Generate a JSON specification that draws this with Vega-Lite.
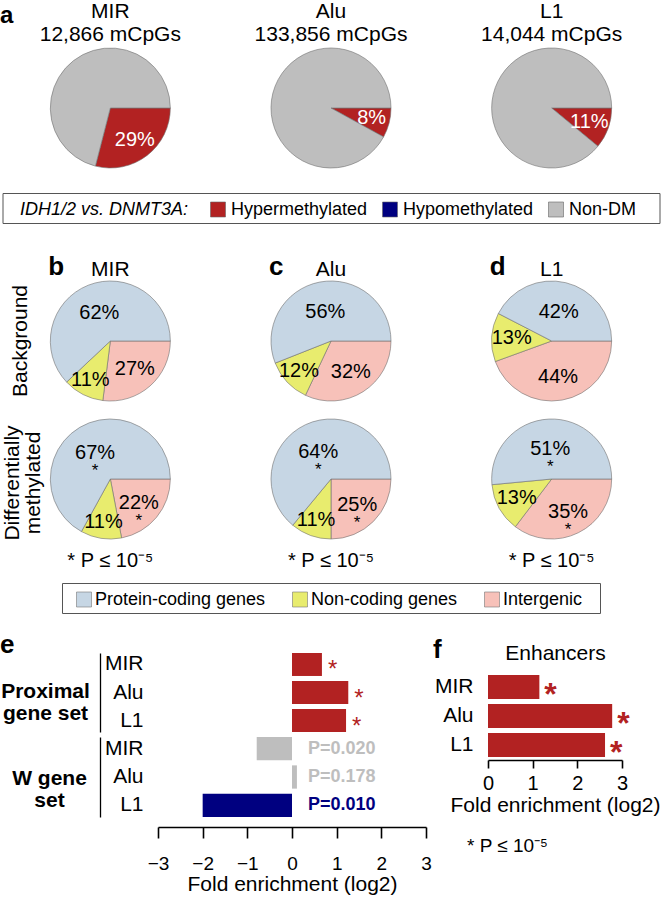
{
  "$schema": "https://vega.github.io/schema/vega-lite/v6.json",
  "background": "white",
  "padding": 0,
  "spacing": 0,
  "bounds": "flush",
  "center": true,
  "config": {
    "font": "Liberation Sans",
    "view": {"stroke": null},
    "axis": {"grid": false, "labelColor": "black", "titleColor": "black", "domainColor": "black", "tickColor": "black", "labelFont": "Liberation Sans", "titleFont": "Liberation Sans"},
    "legend": {"labelFont": "Liberation Sans", "titleFont": "Liberation Sans", "labelColor": "black", "titleColor": "black"},
    "title": {"font": "Liberation Sans", "color": "black"},
    "text": {"font": "Liberation Sans", "color": "black"}
  },
  "resolve": {"scale": {"color": "independent"}, "legend": {"color": "independent"}},
  "datasets": {
    "pieA": [
      {"element": "MIR", "row": "pie", "status": "Hypermethylated", "pct": 29, "k": 1, "label": "29%"},
      {"element": "MIR", "row": "pie", "status": "Non-DM", "pct": 71, "k": 2, "label": ""},
      {"element": "Alu", "row": "pie", "status": "Hypermethylated", "pct": 8, "k": 1, "label": "8%"},
      {"element": "Alu", "row": "pie", "status": "Non-DM", "pct": 92, "k": 2, "label": ""},
      {"element": "L1", "row": "pie", "status": "Hypermethylated", "pct": 11, "k": 1, "label": "11%"},
      {"element": "L1", "row": "pie", "status": "Non-DM", "pct": 89, "k": 2, "label": ""}
    ],
    "titlesA": [
      {"element": "MIR", "row": "title", "title": "MIR\n12,866 mCpGs"},
      {"element": "Alu", "row": "title", "title": "Alu\n133,856 mCpGs"},
      {"element": "L1", "row": "title", "title": "L1\n14,044 mCpGs"}
    ],
    "legendA": [{"status": "Hypermethylated"}, {"status": "Hypomethylated"}, {"status": "Non-DM"}],
    "pieB": [
      {"element": "MIR", "set": "Background", "cat": "Intergenic", "pct": 27, "k": 1, "label": "27%", "star": ""},
      {"element": "MIR", "set": "Background", "cat": "Non-coding genes", "pct": 11, "k": 2, "label": "11%", "star": ""},
      {"element": "MIR", "set": "Background", "cat": "Protein-coding genes", "pct": 62, "k": 3, "label": "62%", "star": ""},
      {"element": "MIR", "set": "Differentially methylated", "cat": "Intergenic", "pct": 22, "k": 1, "label": "22%", "star": "*"},
      {"element": "MIR", "set": "Differentially methylated", "cat": "Non-coding genes", "pct": 11, "k": 2, "label": "11%", "star": ""},
      {"element": "MIR", "set": "Differentially methylated", "cat": "Protein-coding genes", "pct": 67, "k": 3, "label": "67%", "star": "*"},
      {"element": "Alu", "set": "Background", "cat": "Intergenic", "pct": 32, "k": 1, "label": "32%", "star": ""},
      {"element": "Alu", "set": "Background", "cat": "Non-coding genes", "pct": 12, "k": 2, "label": "12%", "star": ""},
      {"element": "Alu", "set": "Background", "cat": "Protein-coding genes", "pct": 56, "k": 3, "label": "56%", "star": ""},
      {"element": "Alu", "set": "Differentially methylated", "cat": "Intergenic", "pct": 25, "k": 1, "label": "25%", "star": "*"},
      {"element": "Alu", "set": "Differentially methylated", "cat": "Non-coding genes", "pct": 11, "k": 2, "label": "11%", "star": ""},
      {"element": "Alu", "set": "Differentially methylated", "cat": "Protein-coding genes", "pct": 64, "k": 3, "label": "64%", "star": "*"},
      {"element": "L1", "set": "Background", "cat": "Intergenic", "pct": 44, "k": 1, "label": "44%", "star": ""},
      {"element": "L1", "set": "Background", "cat": "Non-coding genes", "pct": 13, "k": 2, "label": "13%", "star": ""},
      {"element": "L1", "set": "Background", "cat": "Protein-coding genes", "pct": 42, "k": 3, "label": "42%", "star": ""},
      {"element": "L1", "set": "Differentially methylated", "cat": "Intergenic", "pct": 35, "k": 1, "label": "35%", "star": "*"},
      {"element": "L1", "set": "Differentially methylated", "cat": "Non-coding genes", "pct": 13, "k": 2, "label": "13%", "star": ""},
      {"element": "L1", "set": "Differentially methylated", "cat": "Protein-coding genes", "pct": 51, "k": 3, "label": "51%", "star": "*"}
    ],
    "titlesB": [
      {"element": "MIR", "set": "Background", "name": "MIR", "letter": "b"},
      {"element": "Alu", "set": "Background", "name": "Alu", "letter": "c"},
      {"element": "L1", "set": "Background", "name": "L1", "letter": "d"}
    ],
    "notesB": [
      {"element": "MIR", "set": "Differentially methylated", "note": "* P ≤ 10⁻⁵"},
      {"element": "Alu", "set": "Differentially methylated", "note": "* P ≤ 10⁻⁵"},
      {"element": "L1", "set": "Differentially methylated", "note": "* P ≤ 10⁻⁵"}
    ],
    "rowLabels": [
      {"set": "Background", "t": "Background", "pos": "a"},
      {"set": "Differentially methylated", "t": "Differentially", "pos": "b"},
      {"set": "Differentially methylated", "t": "methylated", "pos": "c"}
    ],
    "legendB": [{"cat": "Protein-coding genes"}, {"cat": "Non-coding genes"}, {"cat": "Intergenic"}],
    "barsE": [
      {"grp": "P", "rep": "MIR", "value": 0.67, "status": "Hypermethylated", "note": "*"},
      {"grp": "P", "rep": "Alu", "value": 1.26, "status": "Hypermethylated", "note": "*"},
      {"grp": "P", "rep": "L1", "value": 1.21, "status": "Hypermethylated", "note": "*"},
      {"grp": "W", "rep": "MIR", "value": -0.79, "status": "Non-DM", "note": "P=0.020"},
      {"grp": "W", "rep": "Alu", "value": 0.11, "status": "Non-DM", "note": "P=0.178"},
      {"grp": "W", "rep": "L1", "value": -2.0, "status": "Hypomethylated", "note": "P=0.010"}
    ],
    "barsF": [
      {"rep": "MIR", "value": 1.15, "status": "Hypermethylated", "note": "*", "letter": "f", "fnote": ""},
      {"rep": "Alu", "value": 2.78, "status": "Hypermethylated", "note": "*", "letter": "", "fnote": ""},
      {"rep": "L1", "value": 2.62, "status": "Hypermethylated", "note": "*", "letter": "", "fnote": "* P ≤ 10⁻⁵"}
    ]
  },
  "vconcat": [
    {
      "width": 662,
      "height": 193,
      "title": {"text": "a", "anchor": "start", "frame": "group", "fontSize": 24, "fontWeight": "bold", "baseline": "alphabetic", "offset": -47},
      "encoding": {
        "x": {"field": "element", "type": "nominal", "scale": {"type": "point", "domain": ["MIR", "Alu", "L1"], "padding": 0.5}, "axis": null},
        "y": {"field": "row", "type": "nominal", "scale": {"type": "point", "domain": ["title", "pie"], "range": [17.5, 108], "padding": 0}, "axis": null}
      },
      "layer": [
        {
          "data": {"name": "pieA"},
          "transform": [{"filter": "datum.element === 'MIR'"}],
          "encoding": {
            "theta": {"field": "pct", "type": "quantitative", "stack": "normalize", "scale": {"range": [1.5707963, 7.8539816]}},
            "order": {"field": "k", "type": "quantitative"},
            "detail": {"field": "status"}
          },
          "layer": [
            {"mark": {"type": "arc", "outerRadius": 60, "stroke": "#707070", "strokeWidth": 0.6}, "encoding": {"color": {"field": "status", "type": "nominal", "scale": {"domain": ["Hypermethylated", "Hypomethylated", "Non-DM"], "range": ["#b22222", "#000080", "#bebebe"]}, "legend": null}}},
            {"mark": {"type": "text", "radius": 40, "fontSize": 20, "color": "white"}, "encoding": {"text": {"field": "label"}}}
          ]
        },
        {
          "data": {"name": "pieA"},
          "transform": [{"filter": "datum.element === 'Alu'"}],
          "encoding": {
            "theta": {"field": "pct", "type": "quantitative", "stack": "normalize", "scale": {"range": [1.5707963, 7.8539816]}},
            "order": {"field": "k", "type": "quantitative"},
            "detail": {"field": "status"}
          },
          "layer": [
            {"mark": {"type": "arc", "outerRadius": 60, "stroke": "#707070", "strokeWidth": 0.6}, "encoding": {"color": {"field": "status", "type": "nominal", "scale": {"domain": ["Hypermethylated", "Hypomethylated", "Non-DM"], "range": ["#b22222", "#000080", "#bebebe"]}, "legend": null}}},
            {"mark": {"type": "text", "radius": 42, "fontSize": 20, "color": "white"}, "encoding": {"text": {"field": "label"}}}
          ]
        },
        {
          "data": {"name": "pieA"},
          "transform": [{"filter": "datum.element === 'L1'"}],
          "encoding": {
            "theta": {"field": "pct", "type": "quantitative", "stack": "normalize", "scale": {"range": [1.5707963, 7.8539816]}},
            "order": {"field": "k", "type": "quantitative"},
            "detail": {"field": "status"}
          },
          "layer": [
            {"mark": {"type": "arc", "outerRadius": 60, "stroke": "#707070", "strokeWidth": 0.6}, "encoding": {"color": {"field": "status", "type": "nominal", "scale": {"domain": ["Hypermethylated", "Hypomethylated", "Non-DM"], "range": ["#b22222", "#000080", "#bebebe"]}, "legend": null}}},
            {"mark": {"type": "text", "radius": 40, "fontSize": 20, "color": "white"}, "encoding": {"text": {"field": "label"}}}
          ]
        },
        {
          "data": {"name": "titlesA"},
          "mark": {"type": "text", "fontSize": 21, "lineBreak": "\n", "lineHeight": 23, "baseline": "alphabetic", "align": "center"},
          "encoding": {"text": {"field": "title"}}
        }
      ]
    },
    {
      "width": 657,
      "height": 30,
      "view": {"stroke": "#555555", "strokeWidth": 1},
      "data": {"name": "legendA"},
      "mark": {"type": "square", "opacity": 0},
      "encoding": {
        "color": {
          "field": "status", "type": "nominal",
          "scale": {"domain": ["Hypermethylated", "Hypomethylated", "Non-DM"], "range": ["#b22222", "#000080", "#bebebe"]},
          "legend": {"orient": "none", "legendX": 17.5, "legendY": 7.5, "direction": "horizontal", "title": "IDH1/2 vs. DNMT3A:", "titleOrient": "left", "titleFontStyle": "italic", "titleFontWeight": "normal", "titleFontSize": 18, "titlePadding": 20, "labelFontSize": 18, "labelOffset": 4, "columnPadding": 13, "symbolType": "square", "symbolSize": 225, "symbolOpacity": 1, "symbolStrokeColor": "#666666", "symbolStrokeWidth": 0.6, "padding": 0, "labelLimit": 400, "titleLimit": 400}
        }
      }
    },
    {
      "width": 662,
      "height": 360,
      "encoding": {
        "x": {"field": "element", "type": "nominal", "scale": {"type": "point", "domain": ["MIR", "Alu", "L1"], "padding": 0.5}, "axis": null},
        "y": {"field": "set", "type": "nominal", "scale": {"type": "point", "domain": ["Background", "Differentially methylated"], "range": [118, 256], "padding": 0}, "axis": null}
      },
      "layer": [
        {
          "data": {"name": "pieB"},
          "transform": [{"filter": "datum.element === 'MIR' && datum.set === 'Background'"}],
          "encoding": {"theta": {"field": "pct", "type": "quantitative", "stack": "normalize", "scale": {"range": [1.5707963, 7.8539816]}}, "order": {"field": "k", "type": "quantitative"}, "detail": {"field": "cat"}},
          "layer": [
            {"mark": {"type": "arc", "outerRadius": 60, "stroke": "#707070", "strokeWidth": 0.6}, "encoding": {"color": {"field": "cat", "type": "nominal", "scale": {"domain": ["Protein-coding genes", "Non-coding genes", "Intergenic"], "range": ["#c6d6e4", "#e8ec6e", "#f7c1b9"]}, "legend": null}}},
            {"mark": {"type": "text", "fontSize": 20, "color": "black", "radius": {"expr": "datum.cat === 'Protein-coding genes' ? 30 : datum.cat === 'Intergenic' ? 37 : 44"}}, "encoding": {"text": {"field": "label"}}},
            {"mark": {"type": "text", "fontSize": 17, "color": "black", "baseline": "alphabetic", "dy": 23, "radius": {"expr": "datum.cat === 'Protein-coding genes' ? 30 : datum.cat === 'Intergenic' ? 37 : 44"}}, "encoding": {"text": {"field": "star"}}}
          ]
        },
        {
          "data": {"name": "pieB"},
          "transform": [{"filter": "datum.element === 'MIR' && datum.set === 'Differentially methylated'"}],
          "encoding": {"theta": {"field": "pct", "type": "quantitative", "stack": "normalize", "scale": {"range": [1.5707963, 7.8539816]}}, "order": {"field": "k", "type": "quantitative"}, "detail": {"field": "cat"}},
          "layer": [
            {"mark": {"type": "arc", "outerRadius": 60, "stroke": "#707070", "strokeWidth": 0.6}, "encoding": {"color": {"field": "cat", "type": "nominal", "scale": {"domain": ["Protein-coding genes", "Non-coding genes", "Intergenic"], "range": ["#c6d6e4", "#e8ec6e", "#f7c1b9"]}, "legend": null}}},
            {"mark": {"type": "text", "fontSize": 20, "color": "black", "radius": {"expr": "datum.cat === 'Protein-coding genes' ? 30 : datum.cat === 'Intergenic' ? 37 : 44"}}, "encoding": {"text": {"field": "label"}}},
            {"mark": {"type": "text", "fontSize": 17, "color": "black", "baseline": "alphabetic", "dy": 23, "radius": {"expr": "datum.cat === 'Protein-coding genes' ? 30 : datum.cat === 'Intergenic' ? 37 : 44"}}, "encoding": {"text": {"field": "star"}}}
          ]
        },
        {
          "data": {"name": "pieB"},
          "transform": [{"filter": "datum.element === 'Alu' && datum.set === 'Background'"}],
          "encoding": {"theta": {"field": "pct", "type": "quantitative", "stack": "normalize", "scale": {"range": [1.5707963, 7.8539816]}}, "order": {"field": "k", "type": "quantitative"}, "detail": {"field": "cat"}},
          "layer": [
            {"mark": {"type": "arc", "outerRadius": 60, "stroke": "#707070", "strokeWidth": 0.6}, "encoding": {"color": {"field": "cat", "type": "nominal", "scale": {"domain": ["Protein-coding genes", "Non-coding genes", "Intergenic"], "range": ["#c6d6e4", "#e8ec6e", "#f7c1b9"]}, "legend": null}}},
            {"mark": {"type": "text", "fontSize": 20, "color": "black", "radius": {"expr": "datum.cat === 'Protein-coding genes' ? 30 : datum.cat === 'Intergenic' ? 37 : 44"}}, "encoding": {"text": {"field": "label"}}},
            {"mark": {"type": "text", "fontSize": 17, "color": "black", "baseline": "alphabetic", "dy": 23, "radius": {"expr": "datum.cat === 'Protein-coding genes' ? 30 : datum.cat === 'Intergenic' ? 37 : 44"}}, "encoding": {"text": {"field": "star"}}}
          ]
        },
        {
          "data": {"name": "pieB"},
          "transform": [{"filter": "datum.element === 'Alu' && datum.set === 'Differentially methylated'"}],
          "encoding": {"theta": {"field": "pct", "type": "quantitative", "stack": "normalize", "scale": {"range": [1.5707963, 7.8539816]}}, "order": {"field": "k", "type": "quantitative"}, "detail": {"field": "cat"}},
          "layer": [
            {"mark": {"type": "arc", "outerRadius": 60, "stroke": "#707070", "strokeWidth": 0.6}, "encoding": {"color": {"field": "cat", "type": "nominal", "scale": {"domain": ["Protein-coding genes", "Non-coding genes", "Intergenic"], "range": ["#c6d6e4", "#e8ec6e", "#f7c1b9"]}, "legend": null}}},
            {"mark": {"type": "text", "fontSize": 20, "color": "black", "radius": {"expr": "datum.cat === 'Protein-coding genes' ? 30 : datum.cat === 'Intergenic' ? 37 : 44"}}, "encoding": {"text": {"field": "label"}}},
            {"mark": {"type": "text", "fontSize": 17, "color": "black", "baseline": "alphabetic", "dy": 23, "radius": {"expr": "datum.cat === 'Protein-coding genes' ? 30 : datum.cat === 'Intergenic' ? 37 : 44"}}, "encoding": {"text": {"field": "star"}}}
          ]
        },
        {
          "data": {"name": "pieB"},
          "transform": [{"filter": "datum.element === 'L1' && datum.set === 'Background'"}],
          "encoding": {"theta": {"field": "pct", "type": "quantitative", "stack": "normalize", "scale": {"range": [1.5707963, 7.8539816]}}, "order": {"field": "k", "type": "quantitative"}, "detail": {"field": "cat"}},
          "layer": [
            {"mark": {"type": "arc", "outerRadius": 60, "stroke": "#707070", "strokeWidth": 0.6}, "encoding": {"color": {"field": "cat", "type": "nominal", "scale": {"domain": ["Protein-coding genes", "Non-coding genes", "Intergenic"], "range": ["#c6d6e4", "#e8ec6e", "#f7c1b9"]}, "legend": null}}},
            {"mark": {"type": "text", "fontSize": 20, "color": "black", "radius": {"expr": "datum.cat === 'Protein-coding genes' ? 30 : datum.cat === 'Intergenic' ? 37 : 40"}}, "encoding": {"text": {"field": "label"}}},
            {"mark": {"type": "text", "fontSize": 17, "color": "black", "baseline": "alphabetic", "dy": 23, "radius": {"expr": "datum.cat === 'Protein-coding genes' ? 30 : datum.cat === 'Intergenic' ? 37 : 40"}}, "encoding": {"text": {"field": "star"}}}
          ]
        },
        {
          "data": {"name": "pieB"},
          "transform": [{"filter": "datum.element === 'L1' && datum.set === 'Differentially methylated'"}],
          "encoding": {"theta": {"field": "pct", "type": "quantitative", "stack": "normalize", "scale": {"range": [1.5707963, 7.8539816]}}, "order": {"field": "k", "type": "quantitative"}, "detail": {"field": "cat"}},
          "layer": [
            {"mark": {"type": "arc", "outerRadius": 60, "stroke": "#707070", "strokeWidth": 0.6}, "encoding": {"color": {"field": "cat", "type": "nominal", "scale": {"domain": ["Protein-coding genes", "Non-coding genes", "Intergenic"], "range": ["#c6d6e4", "#e8ec6e", "#f7c1b9"]}, "legend": null}}},
            {"mark": {"type": "text", "fontSize": 20, "color": "black", "radius": {"expr": "datum.cat === 'Protein-coding genes' ? 30 : datum.cat === 'Intergenic' ? 37 : 40"}}, "encoding": {"text": {"field": "label"}}},
            {"mark": {"type": "text", "fontSize": 17, "color": "black", "baseline": "alphabetic", "dy": 23, "radius": {"expr": "datum.cat === 'Protein-coding genes' ? 30 : datum.cat === 'Intergenic' ? 37 : 40"}}, "encoding": {"text": {"field": "star"}}}
          ]
        },
        {
          "data": {"name": "titlesB"},
          "mark": {"type": "text", "fontSize": 21, "baseline": "alphabetic", "align": "center", "dy": -65.5},
          "encoding": {"text": {"field": "name"}}
        },
        {
          "data": {"name": "titlesB"},
          "mark": {"type": "text", "fontSize": 26, "fontWeight": "bold", "baseline": "alphabetic", "align": "left", "dx": -62, "dy": -66},
          "encoding": {"text": {"field": "letter"}}
        },
        {
          "data": {"name": "notesB"},
          "mark": {"type": "text", "fontSize": 20, "baseline": "alphabetic", "align": "center", "dy": 88},
          "encoding": {"text": {"field": "note"}}
        },
        {
          "data": {"name": "rowLabels"},
          "transform": [{"filter": "datum.pos === 'a'"}],
          "mark": {"type": "text", "angle": 270, "fontSize": 21, "align": "center", "baseline": "middle", "dx": 0, "dy": -89},
          "encoding": {"x": {"datum": "MIR", "type": "nominal", "axis": null}, "text": {"field": "t"}}
        },
        {
          "data": {"name": "rowLabels"},
          "transform": [{"filter": "datum.pos === 'b'"}],
          "mark": {"type": "text", "angle": 270, "fontSize": 21, "align": "center", "baseline": "middle", "dx": -4, "dy": -97},
          "encoding": {"x": {"datum": "MIR", "type": "nominal", "axis": null}, "text": {"field": "t"}}
        },
        {
          "data": {"name": "rowLabels"},
          "transform": [{"filter": "datum.pos === 'c'"}],
          "mark": {"type": "text", "angle": 270, "fontSize": 21, "align": "center", "baseline": "middle", "dx": -4, "dy": -76},
          "encoding": {"x": {"datum": "MIR", "type": "nominal", "axis": null}, "text": {"field": "t"}}
        }
      ]
    },
    {
      "width": 538,
      "height": 30,
      "view": {"stroke": "#555555", "strokeWidth": 1},
      "data": {"name": "legendB"},
      "mark": {"type": "square", "opacity": 0},
      "encoding": {
        "color": {
          "field": "cat", "type": "nominal",
          "scale": {"domain": ["Protein-coding genes", "Non-coding genes", "Intergenic"], "range": ["#c6d6e4", "#e8ec6e", "#f7c1b9"]},
          "legend": {"orient": "none", "legendX": 13, "legendY": 7.5, "direction": "horizontal", "title": null, "labelFontSize": 18, "labelOffset": 2, "columnPadding": 25, "symbolType": "square", "symbolSize": 225, "symbolOpacity": 1, "symbolStrokeColor": "#777777", "symbolStrokeWidth": 0.6, "padding": 0, "labelLimit": 400}
        }
      }
    },
    {
      "width": 662,
      "height": 288,
      "title": {"text": "e", "anchor": "start", "frame": "group", "fontSize": 26, "fontWeight": "bold", "baseline": "alphabetic", "offset": -66},
      "resolve": {"scale": {"x": "independent", "y": "independent"}},
      "layer": [
        {
          "data": {"name": "barsE"},
          "encoding": {
            "x": {"field": "value", "type": "quantitative", "scale": {"domain": [-3, 3], "range": [158, 426], "nice": false},
              "axis": {"orient": "bottom", "offset": -74, "values": [-3, -2, -1, 0, 1, 2, 3], "domainWidth": 1.6, "tickWidth": 1.6, "tickSize": 11, "labelFontSize": 19, "labelPadding": 16, "labelFlush": false, "title": "Fold enrichment (log2)", "titleFontSize": 21, "titleFontWeight": "normal", "titlePadding": 0}}
          },
          "resolve": {"scale": {"y": "independent"}},
          "layer": [
            {
              "transform": [{"filter": "datum.grp === 'P'"}],
              "encoding": {
                "y": {"field": "rep", "type": "nominal", "scale": {"domain": ["MIR", "Alu", "L1"], "range": [40, 119], "paddingInner": 0.18, "paddingOuter": 0},
                  "axis": {"orient": "right", "offset": -562, "domain": true, "domainWidth": 1.3, "ticks": false, "tickSize": 0, "labelAlign": "right", "labelBaseline": "middle", "labelPadding": 43, "labelFontSize": 21, "title": ["Proximal", "gene set"], "titleFontSize": 21, "titleFontWeight": "bold", "titleAngle": 0, "titleAlign": "center", "titleBaseline": "middle", "titleX": -55, "titleY": 78, "titleLineHeight": 22}}
              },
              "layer": [
                {"mark": {"type": "bar"}, "encoding": {"color": {"field": "status", "type": "nominal", "scale": {"domain": ["Hypermethylated", "Hypomethylated", "Non-DM"], "range": ["#b22222", "#000080", "#bebebe"]}, "legend": null}}},
                {"mark": {"type": "text", "align": "left", "baseline": "alphabetic", "dx": 6, "dy": 13, "fontSize": 24}, "encoding": {"text": {"field": "note"}, "color": {"field": "status", "type": "nominal", "scale": {"domain": ["Hypermethylated", "Hypomethylated", "Non-DM"], "range": ["#b22222", "#000080", "#bebebe"]}, "legend": null}}}
              ]
            },
            {
              "transform": [{"filter": "datum.grp === 'W'"}],
              "encoding": {
                "y": {"field": "rep", "type": "nominal", "scale": {"domain": ["MIR", "Alu", "L1"], "range": [124, 204], "paddingInner": 0.18, "paddingOuter": 0},
                  "axis": {"orient": "right", "offset": -562, "domain": true, "domainWidth": 1.3, "ticks": false, "tickSize": 0, "labelAlign": "right", "labelBaseline": "middle", "labelPadding": 43, "labelFontSize": 21, "title": ["W gene", "set"], "titleFontSize": 21, "titleFontWeight": "bold", "titleAngle": 0, "titleAlign": "center", "titleBaseline": "middle", "titleX": -51, "titleY": 165, "titleLineHeight": 22}}
              },
              "layer": [
                {"mark": {"type": "bar"}, "encoding": {"color": {"field": "status", "type": "nominal", "scale": {"domain": ["Hypermethylated", "Hypomethylated", "Non-DM"], "range": ["#b22222", "#000080", "#bebebe"]}, "legend": null}}},
                {"mark": {"type": "text", "align": "left", "baseline": "middle", "dx": 16, "fontSize": 18, "fontWeight": "bold"},
                  "encoding": {
                    "x": {"datum": 0, "type": "quantitative", "scale": {"domain": [-3, 3], "range": [158, 426], "nice": false},
                      "axis": {"orient": "bottom", "offset": -74, "values": [-3, -2, -1, 0, 1, 2, 3], "domainWidth": 1.6, "tickWidth": 1.6, "tickSize": 11, "labelFontSize": 19, "labelPadding": 16, "labelFlush": false, "title": "Fold enrichment (log2)", "titleFontSize": 21, "titleFontWeight": "normal", "titlePadding": 0}},
                    "text": {"field": "note"},
                    "color": {"field": "status", "type": "nominal", "scale": {"domain": ["Hypermethylated", "Hypomethylated", "Non-DM"], "range": ["#b22222", "#000080", "#bebebe"]}, "legend": null}
                  }
                }
              ]
            }
          ]
        },
        {
          "data": {"name": "barsF"},
          "encoding": {
            "x": {"field": "value", "type": "quantitative", "scale": {"domain": [0, 3], "range": [488, 622], "nice": false},
              "axis": {"orient": "bottom", "offset": -141, "values": [0, 1, 2, 3], "domainWidth": 1.6, "tickWidth": 1.6, "tickSize": 8, "labelFontSize": 20, "labelPadding": 5, "labelFlush": false, "title": "Fold enrichment (log2)", "titleFontSize": 21, "titleFontWeight": "normal", "titlePadding": 1}},
            "y": {"field": "rep", "type": "nominal", "scale": {"domain": ["MIR", "Alu", "L1"], "range": [62, 144], "paddingInner": 0.172, "paddingOuter": 0},
              "axis": {"orient": "left", "offset": -488, "domain": false, "ticks": false, "tickSize": 0, "labelPadding": 15, "labelFontSize": 21, "labelBaseline": "middle", "title": "Enhancers", "titleFontSize": 21, "titleFontWeight": "normal", "titleAngle": 0, "titleAlign": "center", "titleBaseline": "middle", "titleX": 67, "titleY": 40}}
          },
          "layer": [
            {"mark": {"type": "bar"}, "encoding": {"color": {"field": "status", "type": "nominal", "scale": {"domain": ["Hypermethylated", "Hypomethylated", "Non-DM"], "range": ["#b22222", "#000080", "#bebebe"]}, "legend": null}}},
            {"mark": {"type": "text", "align": "left", "baseline": "alphabetic", "dx": 5, "dy": 18, "fontSize": 32, "fontWeight": "bold"}, "encoding": {"text": {"field": "note"}, "color": {"field": "status", "type": "nominal", "scale": {"domain": ["Hypermethylated", "Hypomethylated", "Non-DM"], "range": ["#b22222", "#000080", "#bebebe"]}, "legend": null}}},
            {
              "mark": {"type": "text", "align": "left", "baseline": "alphabetic", "dx": -55, "dy": -29, "fontSize": 26, "fontWeight": "bold", "color": "black"},
              "encoding": {
                "x": {"datum": 0, "type": "quantitative", "scale": {"domain": [0, 3], "range": [488, 622], "nice": false},
                  "axis": {"orient": "bottom", "offset": -141, "values": [0, 1, 2, 3], "domainWidth": 1.6, "tickWidth": 1.6, "tickSize": 8, "labelFontSize": 20, "labelPadding": 5, "labelFlush": false, "title": "Fold enrichment (log2)", "titleFontSize": 21, "titleFontWeight": "normal", "titlePadding": 1}},
                "text": {"field": "letter"}
              }
            },
            {
              "mark": {"type": "text", "align": "left", "baseline": "alphabetic", "dx": -21, "dy": 107, "fontSize": 19, "color": "black"},
              "encoding": {
                "x": {"datum": 0, "type": "quantitative", "scale": {"domain": [0, 3], "range": [488, 622], "nice": false},
                  "axis": {"orient": "bottom", "offset": -141, "values": [0, 1, 2, 3], "domainWidth": 1.6, "tickWidth": 1.6, "tickSize": 8, "labelFontSize": 20, "labelPadding": 5, "labelFlush": false, "title": "Fold enrichment (log2)", "titleFontSize": 21, "titleFontWeight": "normal", "titlePadding": 1}},
                "text": {"field": "fnote"}
              }
            }
          ]
        }
      ]
    }
  ]
}
